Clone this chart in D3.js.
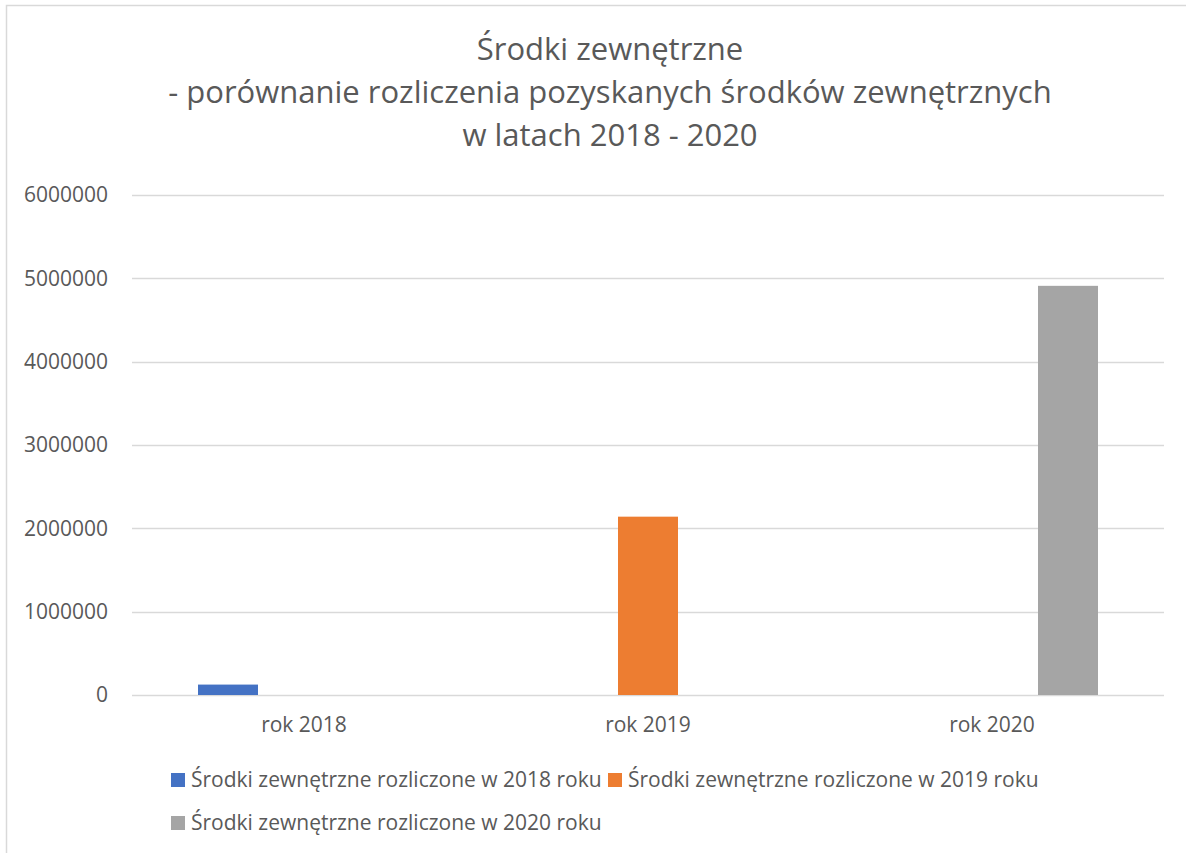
<!DOCTYPE html>
<html>
<head>
<meta charset="utf-8">
<script src="https://cdn.jsdelivr.net/npm/d3@7"></script>
<style>
  html, body { margin: 0; padding: 0; background: #fff; }
  svg { display: block; font-family: "Open Sans", sans-serif; }
</style>
</head>
<body>
<svg id="chart" width="1186" height="853"></svg>
<script>
const titleLines = ["Środki zewnętrzne", "- porównanie rozliczenia pozyskanych środków zewnętrznych", "w latach 2018 - 2020"];
const categories = ["rok 2018", "rok 2019", "rok 2020"];
const seriesNames = [
  "Środki zewnętrzne rozliczone w 2018 roku",
  "Środki zewnętrzne rozliczone w 2019 roku",
  "Środki zewnętrzne rozliczone w 2020 roku"
];
const series2018 = [125000, 0, 0];
const series2019 = [0, 2140000, 0];
const series2020 = [0, 0, 4910000];
const seriesColors = ["#4472C4", "#ED7D31", "#A5A5A5"];
const yTicks = [0, 1000000, 2000000, 3000000, 4000000, 5000000, 6000000];

const seriesValues = [series2018, series2019, series2020];

const svg = d3.select("#chart");
const textColor = "#595959";
const gridColor = "#d9d9d9";

// frame
svg.append("rect").attr("x", 6.5).attr("y", 5.5).attr("width", 1200).attr("height", 900)
  .attr("fill", "none").attr("stroke", gridColor).attr("stroke-width", 1.5);

// title
const title = svg.append("text").attr("text-anchor", "middle").attr("fill", textColor)
  .style("font-size", "31px");
titleLines.forEach((t, i) => {
  title.append("tspan").attr("x", 610).attr("y", 60 + i * 43).text(t);
});

const plot = { left: 132, right: 1164, top: 195, bottom: 695 };

const x0 = d3.scaleBand().domain(categories).range([plot.left, plot.right])
  .paddingInner(132 / 344).paddingOuter(66 / 344);
const x1 = d3.scaleBand().domain(d3.range(seriesNames.length)).range([0, x0.bandwidth()])
  .paddingInner(3 - x0.bandwidth() / 76).paddingOuter(0);
const y = d3.scaleLinear().domain([0, 6000000]).range([plot.bottom, plot.top]);

// gridlines
svg.append("g").selectAll("line").data(yTicks).join("line")
  .attr("x1", plot.left).attr("x2", plot.right)
  .attr("y1", d => Math.round(y(d)) + 0.5).attr("y2", d => Math.round(y(d)) + 0.5)
  .attr("stroke", gridColor).attr("stroke-width", 1.5);

// y axis labels
const yAxis = d3.axisLeft(y).tickValues(yTicks).tickFormat(d3.format("d")).tickSize(0).tickPadding(0);
const yg = svg.append("g").attr("transform", `translate(108,0)`).call(yAxis);
yg.select(".domain").remove();
yg.selectAll("text").attr("fill", textColor).style("font-size", "21px").style("font-family", "'Open Sans', sans-serif");

// bars
const groups = svg.append("g").selectAll("g").data(categories).join("g")
  .attr("transform", d => `translate(${x0(d)},0)`);
groups.selectAll("rect").data((c, ci) => seriesValues.map((s, si) => ({ si, v: s[ci] })))
  .join("rect")
  .attr("x", d => x1(d.si)).attr("width", x1.bandwidth())
  .attr("y", d => y(d.v)).attr("height", d => y(0) - y(d.v))
  .attr("fill", d => seriesColors[d.si]);
groups.selectAll("rect").filter(d => d.v === 0).remove();

// x axis labels
const xAxis = d3.axisBottom(x0).tickSize(0).tickPadding(0);
const xg = svg.append("g").attr("transform", `translate(0,${plot.bottom + 22})`).call(xAxis);
xg.select(".domain").remove();
xg.selectAll("text").attr("fill", textColor).style("font-size", "21px").style("font-family", "'Open Sans', sans-serif");

// legend
const legendPos = [[171, 780], [608, 780], [171, 823]];
const lg = svg.append("g").selectAll("g").data(seriesNames).join("g")
  .attr("transform", (d, i) => `translate(${legendPos[i][0]},${legendPos[i][1]})`);
lg.append("rect").attr("x", 0).attr("y", -7).attr("width", 14).attr("height", 14)
  .attr("fill", (d, i) => seriesColors[i]);
lg.append("text").attr("x", 20).attr("y", 0).attr("dy", "0.35em").attr("fill", textColor)
  .style("font-size", "21px").text(d => d);
</script>
</body>
</html>
